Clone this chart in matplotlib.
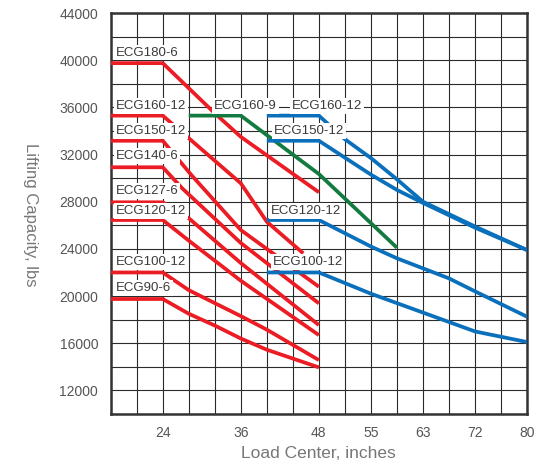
import numpy as np
import matplotlib.pyplot as plt

# load center (inches) -> capacity (lbs)
red_180_6_x = [16, 24, 32, 36, 48]
red_180_6_y = [39750, 39750, 35500, 33500, 28800]
red_160_12_x = [16, 24, 36, 40, 45.6]
red_160_12_y = [35300, 35300, 29560, 26300, 23620]
red_150_12_x = [16, 24, 28.4, 36, 48]
red_150_12_y = [33170, 33170, 30260, 25600, 20790]
red_140_6_x = [16, 24, 27, 36, 48]
red_140_6_y = [30920, 30920, 29130, 24500, 19380]
red_127_6_x = [16, 24, 28, 36, 48]
red_127_6_y = [27950, 27950, 26600, 22800, 17540]
red_120_12_x = [16, 24, 28, 36, 48]
red_120_12_y = [26450, 26450, 24700, 21300, 16690]
red_100_12_x = [16, 24, 28, 36, 40, 48]
red_100_12_y = [22000, 22000, 20500, 18300, 17150, 14570]
red_90_6_x = [16, 24, 28, 32, 36, 40, 48]
red_90_6_y = [19750, 19750, 18500, 17500, 16400, 15450, 13950]

green_160_9_x = [28, 36, 48, 59]
green_160_9_y = [35300, 35300, 30350, 24100]

blue_160_12_x = [40, 48, 51.5, 55, 59, 63, 72, 80]
blue_160_12_y = [35300, 35300, 33300, 31700, 29900, 28000, 25900, 23900]
blue_150_12_x = [40, 48, 55, 59, 63, 72, 80]
blue_150_12_y = [33170, 33170, 30300, 29000, 27900, 25800, 23900]
blue_120_12_x = [40, 48, 55, 59, 63, 67.5, 72, 80]
blue_120_12_y = [26450, 26450, 24200, 23200, 22350, 21500, 20400, 18250]
blue_100_12_x = [40, 48, 55, 59, 63, 67.5, 72, 80]
blue_100_12_y = [22000, 22000, 20200, 19400, 18600, 17800, 17000, 16100]

# the x axis is not linear in inches: each labelled value sits on a grid column
x_ticks = [24, 36, 48, 55, 63, 72, 80]
knots_in = [16, 24, 36, 48, 55, 63, 72, 80]
knots_col = [0, 2, 5, 8, 10, 12, 14, 16]
x_grid = [16, 20, 24, 28, 32, 36, 40, 44, 48, 51.5, 55, 59, 63, 67.5, 72, 76, 80]
y_ticks = list(range(12000, 44001, 4000))
y_grid = list(range(10000, 44001, 2000))

RED = '#ec1c24'
GREEN = '#137b3f'
BLUE = '#0b70bb'


def fwd(x):
    return np.interp(x, knots_in, knots_col)


def inv(c):
    return np.interp(c, knots_col, knots_in)


plt.rcParams['font.family'] = ['Liberation Sans', 'DejaVu Sans']

fig = plt.figure(figsize=(5.38, 4.65), dpi=100)
ax = fig.add_axes([0.2058, 0.1097, 0.7738, 0.8623])
ax.set_xscale('function', functions=(fwd, inv))
ax.set_xlim(16, 80)
ax.set_ylim(10000, 44000)

ax.set_xticks(x_ticks)
ax.set_xticklabels([str(v) for v in x_ticks])
ax.set_xticks(x_grid, minor=True)
ax.set_yticks(y_ticks)
ax.set_yticklabels([str(v) for v in y_ticks])
ax.set_yticks(y_grid, minor=True)
ax.grid(which='both', color='#2b2b2b', lw=0.8)
ax.tick_params(which='both', length=0)
ax.tick_params(axis='x', pad=9, labelsize=10, labelcolor='#555555')
ax.tick_params(axis='y', pad=9, labelsize=10, labelcolor='#555555')
ax.set_axisbelow(True)
for s in ax.spines.values():
    s.set_color('#333333')
    s.set_linewidth(1.8)

lines = [
    (red_180_6_x, red_180_6_y, RED), (red_160_12_x, red_160_12_y, RED),
    (red_150_12_x, red_150_12_y, RED), (red_140_6_x, red_140_6_y, RED),
    (red_127_6_x, red_127_6_y, RED), (red_120_12_x, red_120_12_y, RED),
    (red_100_12_x, red_100_12_y, RED), (red_90_6_x, red_90_6_y, RED),
    (green_160_9_x, green_160_9_y, GREEN),
    (blue_160_12_x, blue_160_12_y, BLUE), (blue_150_12_x, blue_150_12_y, BLUE),
    (blue_120_12_x, blue_120_12_y, BLUE), (blue_100_12_x, blue_100_12_y, BLUE),
]
for xs, ys, c in lines:
    ax.plot(xs, ys, color=c, lw=2.7, solid_capstyle='butt', zorder=3)

labels = [
    ('ECG180-6', 16.8, 40650), ('ECG160-12', 16.8, 36110), ('ECG160-9', 31.9, 36110),
    ('ECG160-12', 43.8, 36110), ('ECG150-12', 16.8, 34000), ('ECG150-12', 41.1, 34000),
    ('ECG140-6', 16.8, 31870), ('ECG127-6', 16.8, 28900), ('ECG120-12', 16.8, 27210),
    ('ECG120-12', 40.6, 27210), ('ECG100-12', 16.8, 22890), ('ECG100-12', 40.9, 22890),
    ('ECG90-6', 16.8, 20690),
]
for txt, lx, ly in labels:
    ax.text(lx, ly, txt, fontsize=9.5, color='#3a3a3a', va='center', ha='left', zorder=5,
            bbox=dict(facecolor='white', edgecolor='none', pad=1.2))

fig.text(318 / 538, 1 - 453 / 465, 'Load Center, inches', fontsize=12.5,
         color='#777777', ha='center', va='center')
fig.text(30 / 538, 1 - 215 / 465, 'Lifting Capacity, lbs', fontsize=12,
         color='#777777', ha='center', va='center', rotation=270)

fig.savefig('out.png', dpi=100)
